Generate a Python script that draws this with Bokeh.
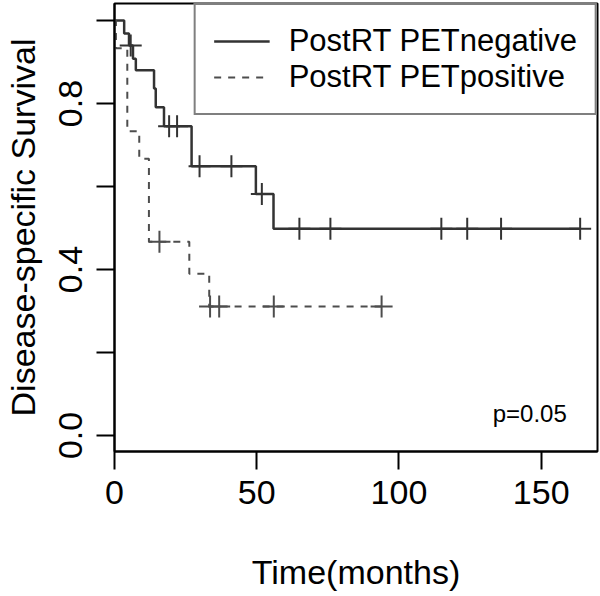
import numpy as np
from bokeh.plotting import figure
from bokeh.models import Range1d, FixedTicker, Legend, LegendItem, Label
from bokeh.embed import file_html
from bokeh.resources import INLINE

# ---- data (Kaplan-Meier estimates) ----
# PostRT PET negative (solid)
neg_step_times = [0, 3.4, 5.1, 6.5, 7.5, 13.9, 14.5, 17.4, 27.1, 49.7, 55.9]
neg_step_surv = [1.0, 0.969, 0.94, 0.908, 0.88, 0.836, 0.791, 0.745, 0.649, 0.582, 0.498]
neg_last_time = 163.7
neg_censor_times = [5.7, 19.2, 22.0, 29.9, 41.1, 51.8, 65.0, 75.9, 114.9, 124.0, 135.9, 163.7]

# PostRT PET positive (dashed)
pos_step_times = [0, 0.5, 4.5, 8.7, 12.1, 26.3, 33.3]
pos_step_surv = [1.0, 0.933, 0.733, 0.667, 0.467, 0.39, 0.311]
pos_last_time = 93.9
pos_censor_times = [15.8, 33.6, 36.8, 56.0, 93.9]

series_labels = ["PostRT PETnegative", "PostRT PETpositive"]
x_ticks = [0, 50, 100, 150]
y_ticks = [0.0, 0.2, 0.4, 0.6, 0.8, 1.0]
y_tick_labels = ["0.0", "", "0.4", "", "0.8", ""]
p_value_text = "p=0.05"

FONT = "Liberation Sans"


def step_xy(times, surv, last):
    return list(times) + [last], list(surv) + [surv[-1]]


def surv_at(times, surv, t):
    idx = np.searchsorted(np.asarray(times), np.asarray(t), side="right") - 1
    return list(np.asarray(surv)[idx])


p = figure(width=600, height=596,
           x_range=Range1d(0, 169.8), y_range=Range1d(-0.0386, 1.041),
           output_backend="svg", toolbar_location=None,
           min_border_left=112, min_border_right=3,
           min_border_top=3, min_border_bottom=145)
p.grid.visible = False
p.outline_line_color = "black"
p.outline_line_width = 2
p.background_fill_color = "white"
p.border_fill_color = "white"

neg_color = "#333333"
pos_color = "#4d4d4d"

nx, ny = step_xy(neg_step_times, neg_step_surv, neg_last_time)
r_neg = p.step(nx, ny, mode="after", line_color=neg_color, line_width=2.5)
p.scatter(neg_censor_times, surv_at(neg_step_times, neg_step_surv, neg_censor_times),
          marker="cross", size=22, line_color=neg_color, line_width=2)

px_, py_ = step_xy(pos_step_times, pos_step_surv, pos_last_time)
r_pos = p.step(px_, py_, mode="after", line_color=pos_color, line_width=2,
               line_dash="7 7")
p.scatter(pos_censor_times, surv_at(pos_step_times, pos_step_surv, pos_censor_times),
          marker="cross", size=22, line_color=pos_color, line_width=2)

# axes
for ax in (p.xaxis[0], p.yaxis[0]):
    ax.axis_line_width = 2
    ax.axis_line_color = "black"
    ax.major_tick_line_width = 2
    ax.major_tick_line_color = "black"
    ax.major_tick_out = 18
    ax.major_tick_in = 0
    ax.minor_tick_line_color = None
    ax.major_label_text_font = FONT
    ax.major_label_text_font_size = "34px"
    ax.major_label_text_color = "black"
    ax.axis_label_text_font = FONT
    ax.axis_label_text_font_size = "34px"
    ax.axis_label_text_font_style = "normal"
    ax.axis_label_text_color = "black"

p.xaxis.ticker = FixedTicker(ticks=x_ticks)
p.xaxis.major_label_standoff = 11
p.xaxis.axis_label = "Time(months)"
p.xaxis.axis_label_standoff = 46

p.yaxis.ticker = FixedTicker(ticks=y_ticks)
p.yaxis.major_label_overrides = {t: lab for t, lab in zip(y_ticks, y_tick_labels)}
p.yaxis.major_label_orientation = "vertical"
p.yaxis.major_label_standoff = 14
p.yaxis.axis_label = "Disease-specific Survival"
p.yaxis.axis_label_standoff = 15

legend = Legend(items=[LegendItem(label=series_labels[0], renderers=[r_neg]),
                       LegendItem(label=series_labels[1], renderers=[r_pos])],
                location="top_right", margin=0, padding=18, spacing=0,
                glyph_width=56, glyph_height=34, label_height=34,
                label_standoff=19,
                label_text_font=FONT, label_text_font_size="31px",
                label_text_color="black",
                border_line_color="black", border_line_width=2,
                background_fill_color="white", background_fill_alpha=1)
p.add_layout(legend)

p.add_layout(Label(x=159, y=0.053, text=p_value_text, text_align="right",
                   text_baseline="middle", text_font=FONT,
                   text_font_size="24px", text_color="black"))

open("out.html", "w").write(file_html(p, INLINE))
